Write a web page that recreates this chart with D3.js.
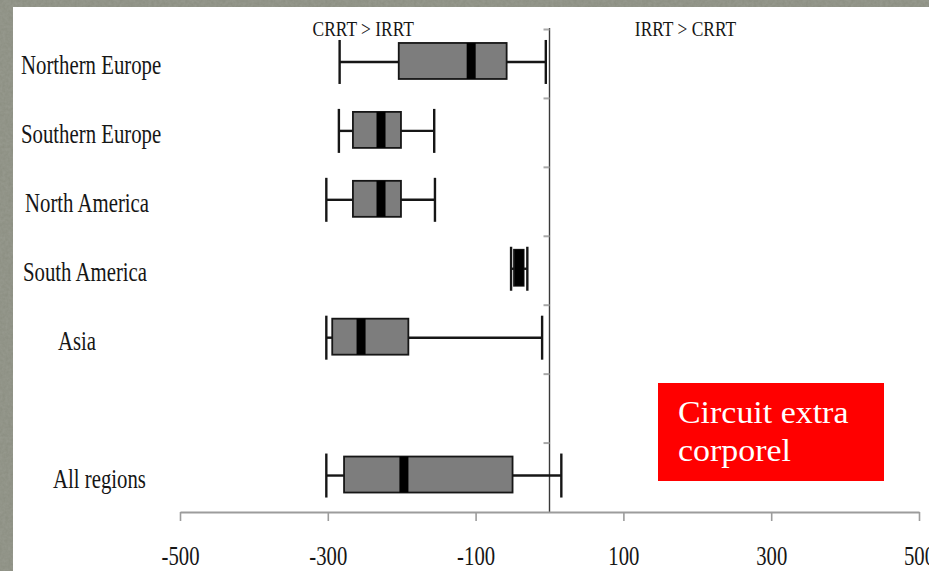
<!DOCTYPE html>
<html>
<head>
<meta charset="utf-8">
<script src="https://cdn.jsdelivr.net/npm/d3@7"></script>
<style>
  html, body { margin: 0; padding: 0; background: #888b7f; }
  svg { display: block; }
</style>
</head>
<body>
<svg id="chart" width="929" height="571"></svg>
<script>
// Row order of the plot; the empty string leaves a blank row above "All regions".
const slots = ["Northern Europe", "Southern Europe", "North America", "South America", "Asia", "", "All regions"];
const regions = ["Northern Europe", "Southern Europe", "North America", "South America", "Asia", "All regions"];

// Box-plot statistics per region (difference, CRRT vs IRRT)
const whiskerLow  = [-284, -285, -302, -52, -302, -302];
const q1          = [-204, -266, -266, -48, -294, -278];
const median      = [-106, -228, -228, -41, -255, -197];
const q3          = [-58, -201, -201, -35, -191, -50];
const whiskerHigh = [-5, -156, -155, -30, -10, 16];

const xTicks = [-500, -300, -100, 100, 300, 500];
const sideLabels = [
  { text: "CRRT > IRRT", at: -252 },
  { text: "IRRT > CRRT", at: 184 }
];
const noteLines = ["Circuit extra", "corporel"];

const W = 929, H = 571;
const svg = d3.select("#chart");

// Textured grey frame with a white sheet on top
const defs = svg.append("defs");
const f = defs.append("filter").attr("id", "grain").attr("x", 0).attr("y", 0).attr("width", "100%").attr("height", "100%");
f.append("feTurbulence").attr("type", "fractalNoise").attr("baseFrequency", 0.35).attr("numOctaves", 2).attr("seed", 4).attr("result", "n");
f.append("feColorMatrix").attr("in", "n").attr("type", "matrix")
  .attr("values", "0 0 0 0 0.45  0 0 0 0 0.46  0 0 0 0 0.42  0 0 0 0.35 0");
svg.append("rect").attr("width", W).attr("height", H).attr("fill", "#8a8d80");
svg.append("rect").attr("width", W).attr("height", H).attr("filter", "url(#grain)");
svg.append("rect").attr("x", 13).attr("y", 7).attr("width", W - 13).attr("height", H - 7).attr("fill", "#ffffff");

const axisY = 512;
const x = d3.scaleLinear().domain([-500, 500]).range([180, 919]);
const y = d3.scaleBand().domain(slots).range([29.5, axisY]);

const serif = "'Liberation Serif', 'Times New Roman', serif";
const ink = "#161616";

// Zero reference line with small row markers
svg.append("line")
  .attr("x1", x(0)).attr("x2", x(0)).attr("y1", 28).attr("y2", axisY)
  .attr("stroke", "#3a3a3a").attr("stroke-width", 1.4);
svg.append("g").selectAll("line").data(slots).join("line")
  .attr("x1", x(0) - 6).attr("x2", x(0))
  .attr("y1", d => y(d)).attr("y2", d => y(d))
  .attr("stroke", "#a8a8a8").attr("stroke-width", 2);

// Horizontal axis (plain hyphen for negative values)
const xAxis = svg.append("g")
  .attr("transform", `translate(0,${axisY})`)
  .call(d3.axisBottom(x).tickValues(xTicks).tickSize(9).tickSizeOuter(0).tickFormat(d => String(d)));
xAxis.select(".domain").attr("stroke", "#9c9c9c").attr("stroke-width", 2);
xAxis.selectAll(".tick line").attr("stroke", "#9c9c9c").attr("stroke-width", 1.6);
xAxis.selectAll(".tick text")
  .attr("y", 53).attr("dy", 0)
  .attr("transform", "scale(0.74,1)")
  .attr("fill", ink)
  .style("font-family", serif).style("font-size", "28px");

// Side annotations above the plot
svg.append("g").selectAll("text").data(sideLabels).join("text")
  .attr("transform", d => `translate(${x(d.at)},36) scale(0.85,1)`)
  .attr("text-anchor", "middle")
  .attr("fill", ink)
  .style("font-family", serif).style("font-size", "20.5px")
  .text(d => d.text);

// Region labels
const indent = { "Asia": 37, "All regions": 32, "North America": 4, "South America": 2 };
svg.append("g").selectAll("text").data(regions).join("text")
  .attr("transform", d => `translate(${21 + (indent[d] || 0)},${y(d) + y.bandwidth() / 2 + 10}) scale(0.77,1)`)
  .attr("fill", ink)
  .style("font-family", serif).style("font-size", "27px")
  .text(d => d);

// Box plots
const rows = regions.map((r, i) => ({
  r, lo: whiskerLow[i], q1: q1[i], med: median[i], q3: q3[i], hi: whiskerHigh[i]
}));
const cy = d => y(d.r) + y.bandwidth() / 2 - 2;
const boxTop = -19, boxBot = 17, capH = 22;

const g = svg.append("g");
const row = g.selectAll("g").data(rows).join("g");

row.append("line").attr("x1", d => x(d.lo)).attr("x2", d => x(d.q1))
  .attr("y1", cy).attr("y2", cy).attr("stroke", ink).attr("stroke-width", 2.4);
row.append("line").attr("x1", d => x(d.q3)).attr("x2", d => x(d.hi))
  .attr("y1", cy).attr("y2", cy).attr("stroke", ink).attr("stroke-width", 2.4);
row.append("line").attr("x1", d => x(d.lo)).attr("x2", d => x(d.lo))
  .attr("y1", d => cy(d) - capH).attr("y2", d => cy(d) + capH).attr("stroke", ink).attr("stroke-width", 2.4);
row.append("line").attr("x1", d => x(d.hi)).attr("x2", d => x(d.hi))
  .attr("y1", d => cy(d) - capH).attr("y2", d => cy(d) + capH).attr("stroke", ink).attr("stroke-width", 2.4);
row.append("rect")
  .attr("x", d => x(d.q1)).attr("width", d => x(d.q3) - x(d.q1))
  .attr("y", d => cy(d) + boxTop).attr("height", boxBot - boxTop)
  .attr("fill", "#7d7d7d").attr("stroke", ink).attr("stroke-width", 1.8);
row.append("rect")
  .attr("x", d => x(d.med) - 4.5).attr("width", 9)
  .attr("y", d => cy(d) + boxTop).attr("height", boxBot - boxTop)
  .attr("fill", "#000");

// Note box
const note = svg.append("g");
note.append("rect").attr("x", 658).attr("y", 383).attr("width", 226).attr("height", 98).attr("fill", "#ff0000");
note.selectAll("text").data(noteLines).join("text")
  .attr("transform", (d, i) => `translate(678,${423 + i * 38}) scale(1.06,1)`)
  .attr("fill", "#ffffff")
  .style("font-family", serif).style("font-size", "32px")
  .text(d => d);
</script>
</body>
</html>
